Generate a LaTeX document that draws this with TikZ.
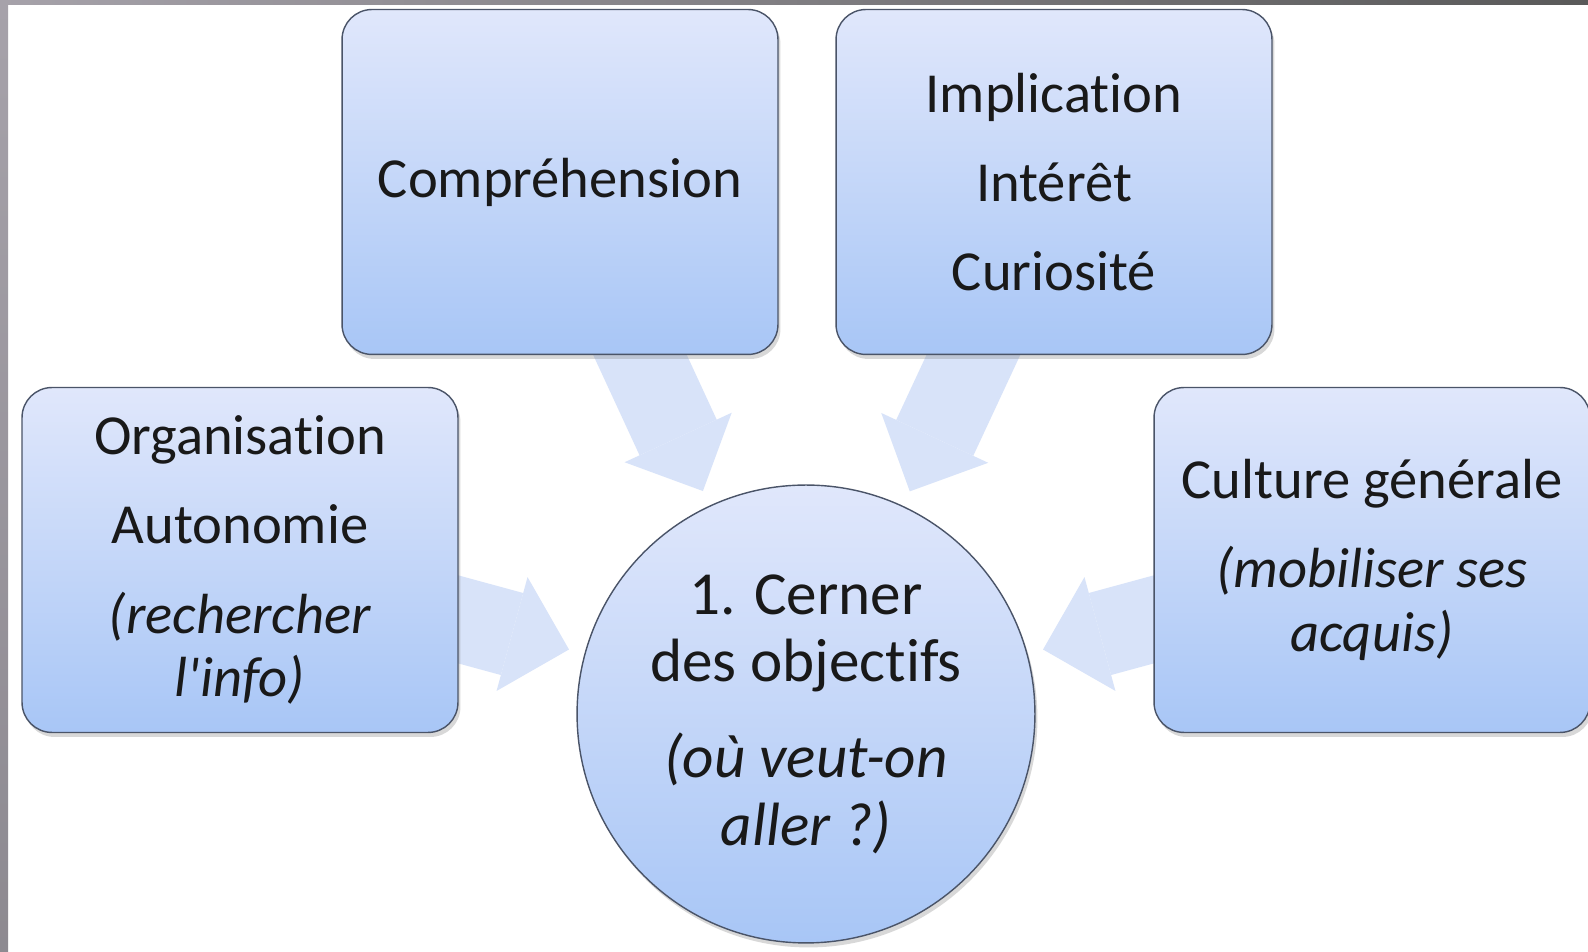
\documentclass[tikz,border=0pt]{standalone}
\usepackage{fontspec}
\setmainfont{Carlito}[Ligatures={TeX,NoCommon,NoRare},RawFeature=-liga]
\usetikzlibrary{arrows.meta,shadows}
\pgfdeclarelayer{background}
\pgfsetlayers{background,main}
\definecolor{boxtop}{RGB}{224,231,251}
\definecolor{boxbot}{RGB}{168,198,246}
\definecolor{boxline}{RGB}{74,84,104}
\definecolor{arrowblue}{RGB}{216,227,249}
\definecolor{framegray}{RGB}{166,162,170}
\tikzset{
  box/.style={rounded corners=0.6cm, draw=boxline, line width=0.8pt,
    top color=boxtop, bottom color=boxbot, minimum width=8.72cm, minimum height=6.9cm,
    align=center, text=black!90, font=\fontsize{32.2}{36}\selectfont,
    drop shadow={shadow xshift=0.05cm,shadow yshift=-0.09cm,opacity=0.3}},
  hub/.style={circle, draw=boxline, line width=0.8pt,
    top color=boxtop, bottom color=boxbot, minimum size=9.16cm,
    align=center, text=black!90, font=\fontsize{34.8}{38.5}\selectfont,
    drop shadow={shadow xshift=0.05cm,shadow yshift=-0.09cm,opacity=0.3}},
  bigarrow/.style={draw=arrowblue, line width=1.7cm, shorten >=0.32cm,
    -{Triangle[length=1.18cm,width=2.36cm,line width=0pt]}}
}
\begin{document}
\begin{tikzpicture}[x=0.02cm,y=0.02cm]
\useasboundingbox (0,0) rectangle (1588,952);
\begin{pgfonlayer}{background}
\fill[white] (0,0) rectangle (1588,952);
\fill[left color=framegray, right color=black!65] (0,947) rectangle (1588,952);
\fill[top color=framegray, bottom color=framegray!85!black] (0,0) rectangle (8,952);
\end{pgfonlayer}

\node[box] (comp) at (560,770) {Compréhension};
\node[box] (impl) at (1054,770) {Implication\\[14.7pt]Intérêt\\[14.7pt]Curiosité};
\node[box] (org) at (240,392) {Organisation\\[14.7pt]Autonomie\\[14.7pt]\textit{(rechercher}\\\textit{l\textquotesingle info)}};
\node[box] (cult) at (1372,392) {Culture générale\\[14.7pt]\textit{(mobiliser ses}\\\textit{acquis)}};
\node[hub] (circ) at (806,238) {1. Cerner\\des objectifs\\[16pt]\textit{(où veut-on}\\\textit{aller ?)}};

\begin{pgfonlayer}{background}
\draw[bigarrow] (comp.center) -- (circ);
\draw[bigarrow] (impl.center) -- (circ);
\draw[bigarrow] (org.center) -- (circ);
\draw[bigarrow] (cult.center) -- (circ);
\end{pgfonlayer}
\end{tikzpicture}
\end{document}
